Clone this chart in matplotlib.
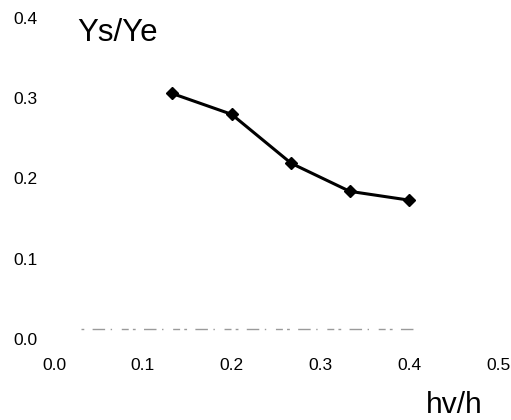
import matplotlib
matplotlib.use('Agg')
import matplotlib.pyplot as plt

plt.rcParams['font.family'] = ['Liberation Sans', 'DejaVu Sans']

# data
hv_h = [0.133, 0.200, 0.267, 0.333, 0.400]
ys_ye = [0.306, 0.280, 0.219, 0.184, 0.173]
x_ticks = [0.0, 0.1, 0.2, 0.3, 0.4, 0.5]
y_ticks = [0.0, 0.1, 0.2, 0.3, 0.4]
# faint broken baseline left over from the scan
base_x = [0.03, 0.41]
base_y = [0.013, 0.013]

fig = plt.figure(figsize=(5.11, 4.20), dpi=100)
ax = fig.add_axes([0.1057, 0.193, 0.869, 0.764])

ax.plot(base_x, base_y, color='#9a9a9a', lw=1.0, dashes=(2, 6, 9, 4, 1, 7, 5, 3))
ax.plot(hv_h, ys_ye, color='black', lw=2.2, marker='D', markersize=6.5,
        markerfacecolor='black', markeredgecolor='black')

ax.set_xlim(0, 0.5)
ax.set_ylim(0, 0.4)
ax.set_xticks(x_ticks)
ax.set_yticks(y_ticks)
ax.set_xticklabels([f"{v:.1f}" for v in x_ticks])
ax.set_yticklabels([f"{v:.1f}" for v in y_ticks])
ax.tick_params(axis='x', length=0, pad=14, labelsize=12.5)
ax.tick_params(axis='y', length=0, pad=12, labelsize=12.5)
for s in ax.spines.values():
    s.set_visible(False)
ax.patch.set_alpha(0)

fig.text(77 / 511, 1 - 41 / 420, "Ys/Ye", fontsize=22.5, va='baseline', ha='left')
fig.text(426 / 511, 1 - 413 / 420, "hv/h", fontsize=21.5, va='baseline', ha='left')

fig.savefig('out.png', dpi=100)
